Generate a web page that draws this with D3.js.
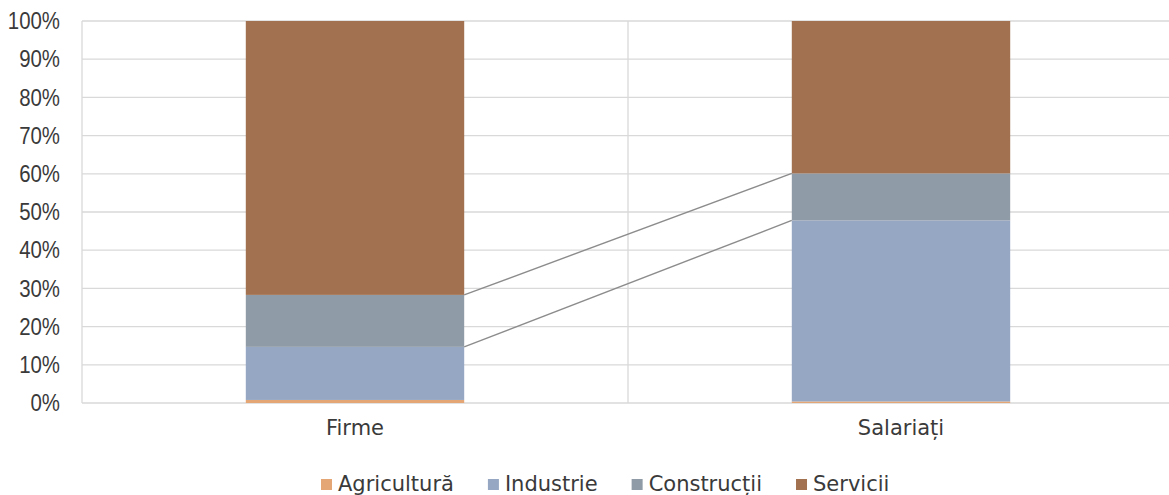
<!DOCTYPE html>
<html>
<head>
<meta charset="utf-8">
<script src="https://cdn.jsdelivr.net/npm/d3@7"></script>
<style>
  html, body { margin: 0; padding: 0; background: #ffffff; }
  svg { display: block; }
</style>
</head>
<body>
<svg id="chart" width="1169" height="495"></svg>
<script>
// Categories and series (shares in percent)
const categories = ["Firme", "Salariați"];
const seriesNames = ["Agricultură", "Industrie", "Construcții", "Servicii"];
const agricultura = [0.8, 0.4];
const industrie = [13.9, 47.4];
const constructii = [13.6, 12.3];
const servicii = [71.7, 39.9];
const yTicks = [0, 10, 20, 30, 40, 50, 60, 70, 80, 90, 100];

const seriesColors = ["#e4a674", "#95a7c2", "#8f9ba6", "#a2714f"];

const rows = categories.map((c, i) => ({
  cat: c,
  "Agricultură": agricultura[i],
  "Industrie": industrie[i],
  "Construcții": constructii[i],
  "Servicii": servicii[i]
}));

const stack = d3.stack().keys(seriesNames)(rows);

const svg = d3.select("#chart");
const plot = { left: 82, right: 1174, top: 21, bottom: 403 };

const x = d3.scaleBand()
  .domain(categories)
  .range([plot.left, plot.right])
  .paddingInner(0.6)
  .paddingOuter(0.3);

const xCells = d3.scaleBand()
  .domain(categories)
  .range([plot.left, plot.right])
  .padding(0);

const y = d3.scaleLinear().domain([0, 100]).range([plot.bottom, plot.top]);
const color = d3.scaleOrdinal().domain(seriesNames).range(seriesColors);

// Horizontal gridlines
svg.append("g")
  .selectAll("line")
  .data(yTicks)
  .join("line")
  .attr("x1", plot.left)
  .attr("x2", plot.right)
  .attr("y1", d => y(d))
  .attr("y2", d => y(d))
  .attr("stroke", "#d9d9d9")
  .attr("stroke-width", 1.3);

// Vertical gridlines at category boundaries
const vLines = categories.map(c => xCells(c)).concat([plot.right]);
svg.append("g")
  .selectAll("line")
  .data(vLines)
  .join("line")
  .attr("x1", d => d)
  .attr("x2", d => d)
  .attr("y1", plot.top)
  .attr("y2", plot.bottom)
  .attr("stroke", "#d9d9d9")
  .attr("stroke-width", 1.3);

// Stacked bars
svg.append("g")
  .selectAll("g")
  .data(stack)
  .join("g")
  .attr("fill", d => color(d.key))
  .selectAll("rect")
  .data(d => d)
  .join("rect")
  .attr("x", d => x(d.data.cat))
  .attr("width", x.bandwidth())
  .attr("y", d => y(d[1]))
  .attr("height", d => y(d[0]) - y(d[1]));

// Series lines joining segment boundaries between the two columns
const joinKeys = ["Industrie", "Construcții"];
svg.append("g")
  .selectAll("line")
  .data(stack.filter(s => joinKeys.includes(s.key)))
  .join("line")
  .attr("x1", x(categories[0]) + x.bandwidth())
  .attr("x2", x(categories[1]))
  .attr("y1", s => y(s[0][1]))
  .attr("y2", s => y(s[1][1]))
  .attr("stroke", "#8c8c8c")
  .attr("stroke-width", 1.4);

// Y axis labels (condensed horizontally)
const yAxis = d3.axisLeft(y)
  .tickValues(yTicks)
  .tickFormat(d => d + "%")
  .tickSize(0)
  .tickPadding(0);

const yg = svg.append("g")
  .attr("transform", "translate(60,0)")
  .call(yAxis);
yg.select(".domain").remove();
yg.selectAll("text")
  .attr("font-family", "'Liberation Sans', Arial, sans-serif")
  .attr("font-size", 24)
  .attr("fill", "#3a3a3a")
  .attr("transform", "scale(0.85,1)");

// Category labels
const xAxis = d3.axisBottom(x).tickSize(0).tickPadding(0);
const xg = svg.append("g")
  .attr("transform", "translate(0,420)")
  .call(xAxis);
xg.select(".domain").remove();
xg.selectAll("text")
  .attr("font-family", "'DejaVu Sans', sans-serif")
  .attr("font-size", 21)
  .attr("fill", "#3a3a3a")
  .attr("dy", "0.71em");

// Legend
const legend = svg.append("g").attr("transform", "translate(321,0)");
let lx = 0;
seriesNames.forEach((name, i) => {
  const g = legend.append("g").attr("transform", `translate(${lx},0)`);
  g.append("rect")
    .attr("x", 0)
    .attr("y", 479)
    .attr("width", 11)
    .attr("height", 11)
    .attr("fill", color(name));
  const t = g.append("text")
    .attr("x", 17)
    .attr("y", 491)
    .attr("font-family", "'DejaVu Sans', sans-serif")
    .attr("font-size", 21)
    .attr("fill", "#3a3a3a")
    .text(name);
  lx += 17 + t.node().getComputedTextLength() + 34;
});
</script>
</body>
</html>
